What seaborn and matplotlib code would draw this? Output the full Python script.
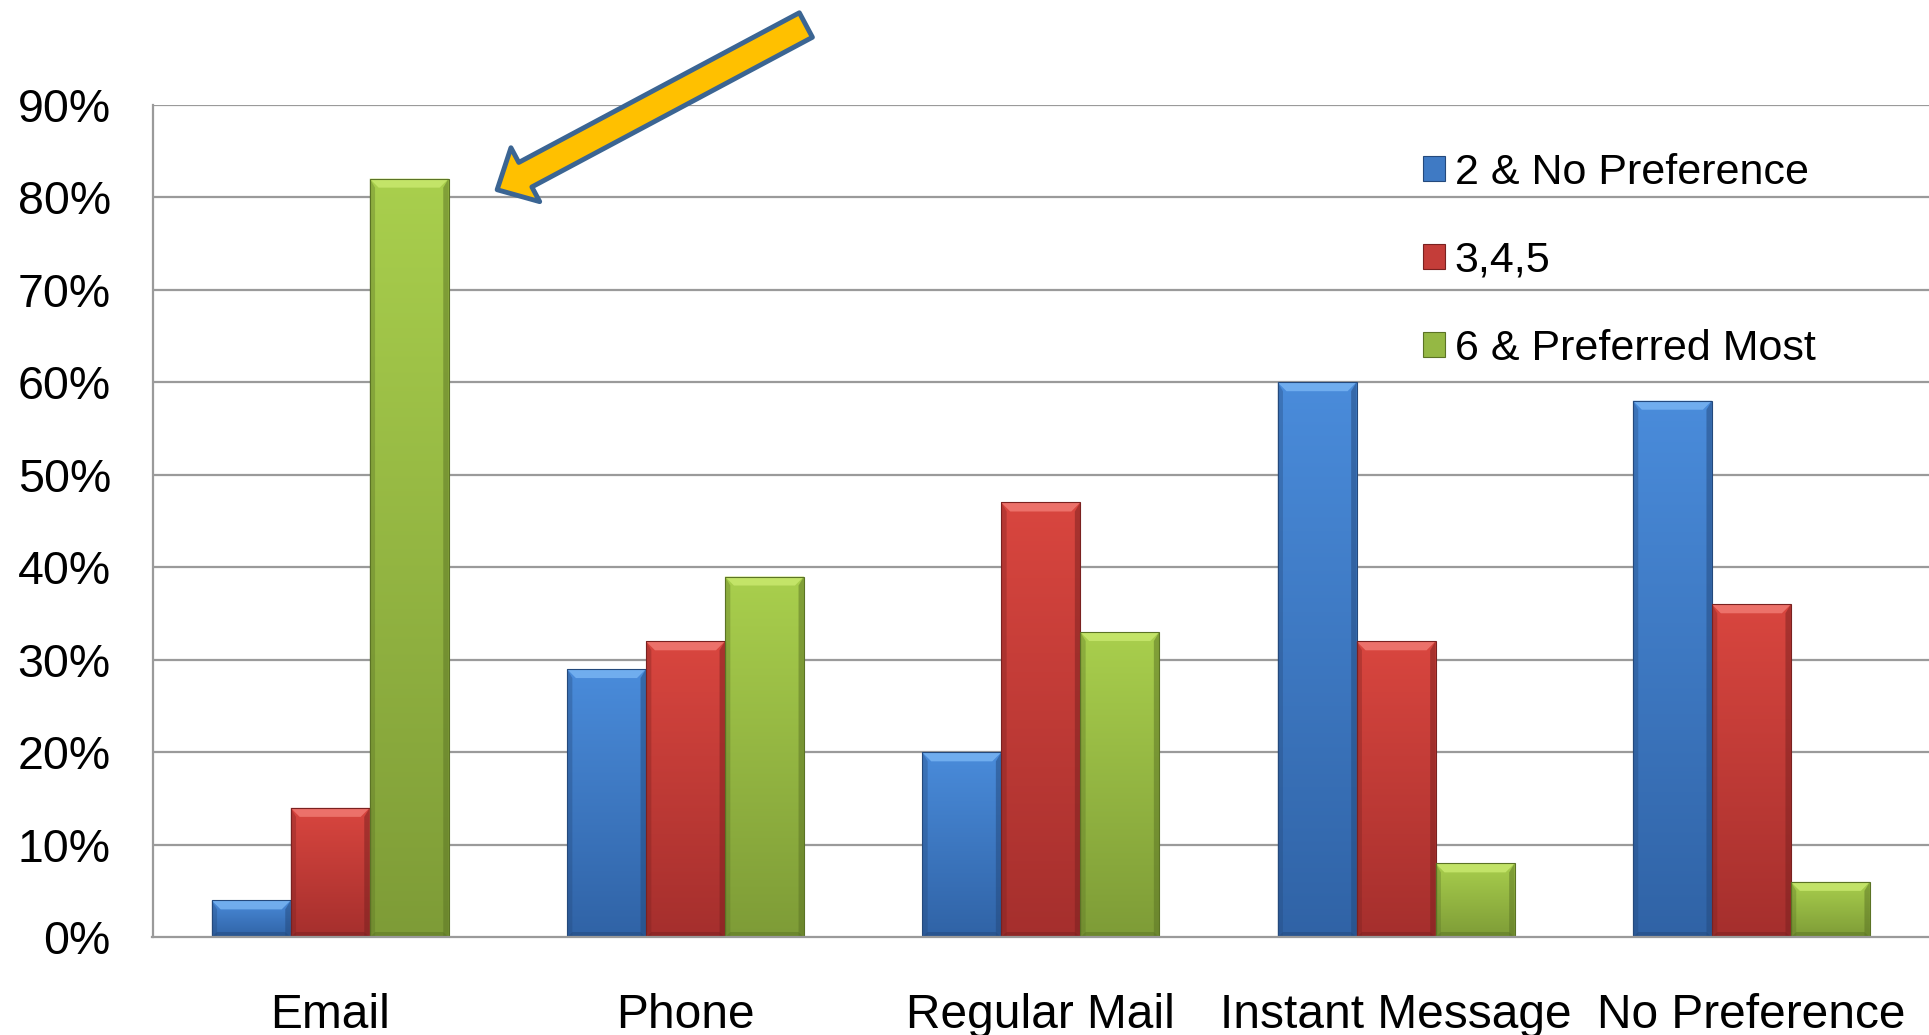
import numpy as np
import pandas as pd
import matplotlib
matplotlib.use("Agg")
import matplotlib.pyplot as plt
import matplotlib.colors as mcolors
from matplotlib.patches import Patch, Polygon
import seaborn as sns

categories = ["Email", "Phone", "Regular Mail", "Instant Message", "No Preference"]
series_names = ["2 & No Preference", "3,4,5", "6 & Preferred Most"]
vals_2_nopref = [0.04, 0.29, 0.20, 0.60, 0.58]
vals_345 = [0.14, 0.32, 0.47, 0.32, 0.36]
vals_6_pref = [0.82, 0.39, 0.33, 0.08, 0.06]
y_ticks = [0.0, 0.1, 0.2, 0.3, 0.4, 0.5, 0.6, 0.7, 0.8, 0.9]
y_tick_labels = ["0%", "10%", "20%", "30%", "40%", "50%", "60%", "70%", "80%", "90%"]

# colours: (top, bottom, bevel-light, edge-dark)
colors_top = ["#4a8cdb", "#d9463f", "#a9cf4d"]
colors_bot = ["#3063a6", "#a52f2d", "#7e9c37"]
colors_bevel = ["#78b4f2", "#f07a72", "#c8e86e"]
colors_edge = ["#24497c", "#7a2120", "#5b7325"]
colors_mid = ["#3f7ac4", "#c43d39", "#95b844"]

df = pd.DataFrame({
    "category": np.repeat(categories, 3),
    "series": series_names * len(categories),
    "value": np.ravel(np.column_stack([vals_2_nopref, vals_345, vals_6_pref])),
})

sns.set_theme(style="white")
plt.rcParams["font.family"] = ["Liberation Sans", "DejaVu Sans"]
plt.rcParams["text.color"] = "black"
plt.rcParams["xtick.labelcolor"] = "black"
plt.rcParams["ytick.labelcolor"] = "black"

W, H = 1929, 1035
fig = plt.figure(figsize=(W / 100, H / 100), dpi=100)
ax_left, ax_bottom_px, ax_top_px = 152.5, 937.4, 104.6
ax = fig.add_axes([ax_left / W, 1 - ax_bottom_px / H, 1 - ax_left / W, (ax_bottom_px - ax_top_px) / H])

sns.barplot(data=df, x="category", y="value", hue="series", order=categories,
            hue_order=series_names, palette=colors_mid, width=0.667, dodge=True,
            ax=ax, zorder=3, linewidth=0, saturation=1)

ax.set_xlim(-0.5, len(categories) - 0.5)
ax.set_ylim(0, 0.9)
ax.set_xlabel("")
ax.set_ylabel("")
leg = ax.get_legend()
if leg is not None:
    leg.remove()

# gradient + bevel decoration on each bar
fig.canvas.draw()
n = len(categories)
for i, patch in enumerate(ax.patches[: 3 * n]):
    s = i // n
    x0, y0 = patch.get_x(), patch.get_y()
    w, h = patch.get_width(), patch.get_height()
    if h <= 0:
        continue
    cmap = mcolors.LinearSegmentedColormap.from_list("g", [colors_bot[s], colors_top[s]])
    grad = np.linspace(0, 1, 256).reshape(-1, 1)
    im = ax.imshow(grad, cmap=cmap, aspect="auto", extent=[x0, x0 + w, y0, y0 + h],
                   origin="lower", zorder=3.1)
    im.set_clip_path(patch)
    (px0, py0) = ax.transData.transform((x0, y0))
    (px1, py1) = ax.transData.transform((x0 + w, y0 + h))
    b = min(9.0, (py1 - py0) / 2)
    inv = ax.transData.inverted()
    top_poly = inv.transform([(px0, py1), (px1, py1), (px1 - b, py1 - b), (px0 + b, py1 - b)])
    ax.add_patch(Polygon(top_poly, closed=True, fc=colors_bevel[s], ec="none", zorder=3.2, alpha=0.85))
    left_poly = inv.transform([(px0, py0), (px0, py1), (px0 + b * 0.6, py1 - b), (px0 + b * 0.6, py0)])
    ax.add_patch(Polygon(left_poly, closed=True, fc=colors_edge[s], ec="none", zorder=3.2, alpha=0.35))
    right_poly = inv.transform([(px1, py0), (px1, py1), (px1 - b * 0.6, py1 - b), (px1 - b * 0.6, py0)])
    ax.add_patch(Polygon(right_poly, closed=True, fc=colors_edge[s], ec="none", zorder=3.2, alpha=0.5))
    bot_poly = inv.transform([(px0, py0), (px1, py0), (px1 - b * 0.6, py0 + b * 0.6), (px0 + b * 0.6, py0 + b * 0.6)])
    ax.add_patch(Polygon(bot_poly, closed=True, fc=colors_edge[s], ec="none", zorder=3.2, alpha=0.5))
    patch.set_edgecolor(colors_edge[s])
    patch.set_linewidth(0.8)
    patch.set_zorder(3.3)
    patch.set_facecolor("none")

# axes styling
grid_color = "#9a9a9a"
ax.set_yticks(y_ticks)
ax.set_yticklabels(y_tick_labels)
for y in y_ticks[1:]:
    ax.axhline(y, color=grid_color, lw=1.6, zorder=1)
for side in ["top", "right"]:
    ax.spines[side].set_visible(False)
for side in ["left", "bottom"]:
    ax.spines[side].set_color(grid_color)
    ax.spines[side].set_linewidth(1.6)
    ax.spines[side].set_zorder(4)

ax.set_xticks(range(n))
ax.set_xticklabels(categories)
ax.set_xticks(np.arange(-0.5, n, 1.0), minor=True)
ax.tick_params(axis="x", which="major", length=0, labelsize=34.5, pad=40, labelcolor="black")
ax.tick_params(axis="x", which="minor", length=10, width=1.6, color=grid_color, direction="out")
ax.tick_params(axis="y", which="major", length=10, width=1.6, color=grid_color, direction="out",
               labelsize=33.5, pad=20, labelcolor="black")

# legend
handles = [Patch(facecolor=colors_mid[k], edgecolor=colors_edge[k], linewidth=0.8) for k in range(3)]
lg = fig.legend(handles, series_names, loc="upper left", bbox_to_anchor=(1423 / W, 1 - 153 / H),
                frameon=False, fontsize=31, handlelength=0.52, handleheight=0.52, handletextpad=0.22,
                labelspacing=1.11, borderaxespad=0, borderpad=0)
for t in lg.get_texts():
    t.set_color("black")

# highlight arrow pointing at Email's top bar
ax.annotate("", xy=(0.47, 0.808), xytext=(1.339, 0.986), xycoords="data", textcoords="data",
            annotation_clip=False,
            arrowprops=dict(arrowstyle="simple,head_length=2.3,head_width=4.4,tail_width=2.0",
                            mutation_scale=10, fc="#FFC000", ec="#3B6593", lw=3.5,
                            shrinkA=0, shrinkB=0, clip_on=False), zorder=6)

fig.savefig("out.png", dpi=100)
